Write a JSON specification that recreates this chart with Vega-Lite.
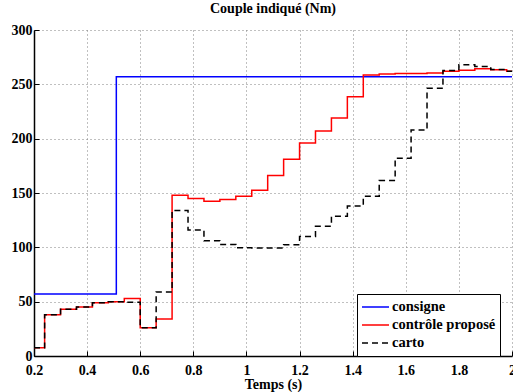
{
  "$schema": "https://vega.github.io/schema/vega-lite/v6.json",
  "width": 478,
  "height": 326,
  "autosize": {"type": "none"},
  "padding": {"left": 34, "top": 30, "right": 1, "bottom": 36},
  "background": "white",
  "title": {"text": "Couple indiqué (Nm)", "font": "'Liberation Serif', 'Times New Roman', serif", "fontSize": 14, "fontWeight": "bold", "color": "black", "anchor": "middle", "offset": 7},
  "config": {
    "font": "'Liberation Serif', 'Times New Roman', serif",
    "view": {"stroke": null},
    "axis": {
      "labelFont": "'Liberation Serif', 'Times New Roman', serif", "labelFontSize": 14, "labelFontWeight": "bold", "labelColor": "black",
      "titleFont": "'Liberation Serif', 'Times New Roman', serif", "titleFontSize": 14, "titleFontWeight": "bold", "titleColor": "black",
      "domainColor": "black", "domainWidth": 1.5, "tickColor": "black", "tickSize": -5, "tickWidth": 1,
      "gridColor": "#808080", "gridDash": [1, 3], "gridWidth": 1, "gridOpacity": 1
    }
  },
  "data": {
    "values": [
      {"t": 0.2, "v": 57, "s": "consigne"},
      {"t": 0.51, "v": 257, "s": "consigne"},
      {"t": 2.0, "v": 257, "s": "consigne"},
      {"t": 0.2, "v": 7.5, "s": "contrôle proposé"},
      {"t": 0.24, "v": 38, "s": "contrôle proposé"},
      {"t": 0.30, "v": 43, "s": "contrôle proposé"},
      {"t": 0.36, "v": 45, "s": "contrôle proposé"},
      {"t": 0.42, "v": 49, "s": "contrôle proposé"},
      {"t": 0.48, "v": 50, "s": "contrôle proposé"},
      {"t": 0.54, "v": 53, "s": "contrôle proposé"},
      {"t": 0.60, "v": 26, "s": "contrôle proposé"},
      {"t": 0.66, "v": 34, "s": "contrôle proposé"},
      {"t": 0.72, "v": 148, "s": "contrôle proposé"},
      {"t": 0.78, "v": 145, "s": "contrôle proposé"},
      {"t": 0.84, "v": 142.5, "s": "contrôle proposé"},
      {"t": 0.90, "v": 144, "s": "contrôle proposé"},
      {"t": 0.96, "v": 147, "s": "contrôle proposé"},
      {"t": 1.02, "v": 152.5, "s": "contrôle proposé"},
      {"t": 1.08, "v": 166, "s": "contrôle proposé"},
      {"t": 1.14, "v": 181, "s": "contrôle proposé"},
      {"t": 1.20, "v": 196, "s": "contrôle proposé"},
      {"t": 1.26, "v": 207, "s": "contrôle proposé"},
      {"t": 1.32, "v": 219, "s": "contrôle proposé"},
      {"t": 1.38, "v": 238.5, "s": "contrôle proposé"},
      {"t": 1.44, "v": 258.5, "s": "contrôle proposé"},
      {"t": 1.50, "v": 259.5, "s": "contrôle proposé"},
      {"t": 1.56, "v": 260, "s": "contrôle proposé"},
      {"t": 1.62, "v": 260, "s": "contrôle proposé"},
      {"t": 1.68, "v": 260.5, "s": "contrôle proposé"},
      {"t": 1.74, "v": 262, "s": "contrôle proposé"},
      {"t": 1.80, "v": 263, "s": "contrôle proposé"},
      {"t": 1.86, "v": 264.3, "s": "contrôle proposé"},
      {"t": 1.92, "v": 263.4, "s": "contrôle proposé"},
      {"t": 1.98, "v": 262, "s": "contrôle proposé"},
      {"t": 2.0, "v": 262, "s": "contrôle proposé"},
      {"t": 0.2, "v": 7.5, "s": "carto"},
      {"t": 0.24, "v": 38, "s": "carto"},
      {"t": 0.30, "v": 43, "s": "carto"},
      {"t": 0.36, "v": 45, "s": "carto"},
      {"t": 0.42, "v": 49, "s": "carto"},
      {"t": 0.48, "v": 50, "s": "carto"},
      {"t": 0.54, "v": 49.5, "s": "carto"},
      {"t": 0.60, "v": 26, "s": "carto"},
      {"t": 0.66, "v": 59, "s": "carto"},
      {"t": 0.72, "v": 134, "s": "carto"},
      {"t": 0.78, "v": 116, "s": "carto"},
      {"t": 0.84, "v": 106, "s": "carto"},
      {"t": 0.90, "v": 102.5, "s": "carto"},
      {"t": 0.96, "v": 99.6, "s": "carto"},
      {"t": 1.02, "v": 99.3, "s": "carto"},
      {"t": 1.08, "v": 99.3, "s": "carto"},
      {"t": 1.14, "v": 102.3, "s": "carto"},
      {"t": 1.20, "v": 110, "s": "carto"},
      {"t": 1.26, "v": 119.4, "s": "carto"},
      {"t": 1.32, "v": 128.5, "s": "carto"},
      {"t": 1.38, "v": 138, "s": "carto"},
      {"t": 1.44, "v": 147, "s": "carto"},
      {"t": 1.50, "v": 161.5, "s": "carto"},
      {"t": 1.56, "v": 182, "s": "carto"},
      {"t": 1.62, "v": 208, "s": "carto"},
      {"t": 1.68, "v": 246.4, "s": "carto"},
      {"t": 1.74, "v": 262.7, "s": "carto"},
      {"t": 1.80, "v": 268, "s": "carto"},
      {"t": 1.86, "v": 266.5, "s": "carto"},
      {"t": 1.92, "v": 263.7, "s": "carto"},
      {"t": 1.98, "v": 262, "s": "carto"},
      {"t": 2.0, "v": 262, "s": "carto"}
    ]
  },
  "mark": {"type": "line", "interpolate": "step-after", "strokeWidth": 1.5, "clip": true},
  "encoding": {
    "x": {
      "field": "t", "type": "quantitative",
      "scale": {"domain": [0.2, 2], "nice": false, "zero": false},
      "axis": {"values": [0.2, 0.4, 0.6, 0.8, 1, 1.2, 1.4, 1.6, 1.8, 2], "format": "~g", "title": "Temps (s)", "titlePadding": 0, "labelPadding": 12, "labelFlush": false, "labelOverlap": false}
    },
    "y": {
      "field": "v", "type": "quantitative",
      "scale": {"domain": [0, 300], "nice": false},
      "axis": {"values": [0, 50, 100, 150, 200, 250, 300], "title": null, "labelPadding": 7}
    },
    "color": {
      "field": "s", "type": "nominal",
      "scale": {"domain": ["consigne", "contrôle proposé", "carto"], "range": ["#0000ff", "#ff0000", "#000000"]},
      "legend": {"title": null, "orient": "none", "legendX": 323, "legendY": 264, "strokeColor": "black", "fillColor": "white", "padding": 4, "cornerRadius": 0, "labelFont": "'Liberation Serif', 'Times New Roman', serif", "labelFontSize": 14.5, "labelFontWeight": "bold", "labelColor": "black", "symbolType": "stroke", "symbolSize": 729, "symbolStrokeWidth": 1.5, "clipHeight": 18, "rowPadding": 0, "labelOffset": 2}
    },
    "strokeDash": {
      "field": "s", "type": "nominal",
      "scale": {"domain": ["consigne", "contrôle proposé", "carto"], "range": [[1, 0], [1, 0], [6, 4]]},
      "legend": {"title": null, "orient": "none", "legendX": 323, "legendY": 264, "strokeColor": "black", "fillColor": "white", "padding": 4, "cornerRadius": 0, "labelFont": "'Liberation Serif', 'Times New Roman', serif", "labelFontSize": 14.5, "labelFontWeight": "bold", "labelColor": "black", "symbolType": "stroke", "symbolSize": 729, "symbolStrokeWidth": 1.5, "clipHeight": 18, "rowPadding": 0, "labelOffset": 2}
    }
  }
}
